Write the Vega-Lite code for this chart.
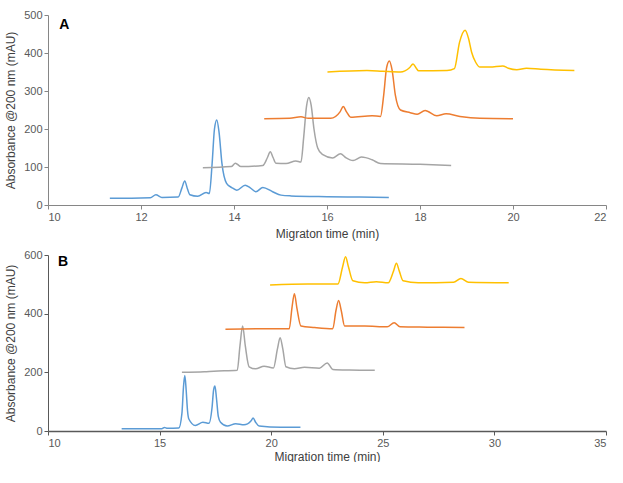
{
  "$schema": "https://vega.github.io/schema/vega-lite/v6.json",
  "padding": {"left": 4, "top": 9, "right": 0, "bottom": 0},
  "spacing": 10,
  "background": "white",
  "config": {
    "view": {"stroke": null},
    "font": "Liberation Sans",
    "axis": {
      "grid": false,
      "labelFont": "Liberation Sans",
      "labelFontSize": 11,
      "labelColor": "#595959",
      "labelOverlap": false,
      "titleFont": "Liberation Sans",
      "titleFontSize": 12,
      "titleFontWeight": "normal",
      "titleColor": "#404040",
      "domainColor": "#868686",
      "tickColor": "#868686",
      "tickSize": 4
    }
  },
  "datasets": {
    "A": [
      {"s": "1", "t": 11.33, "v": 18}, {"s": "1", "t": 11.8, "v": 18}, {"s": "1", "t": 12.2, "v": 19}, {"s": "1", "t": 12.32, "v": 27}, {"s": "1", "t": 12.45, "v": 20}, {"s": "1", "t": 12.8, "v": 21}, {"s": "1", "t": 12.88, "v": 45}, {"s": "1", "t": 12.94, "v": 63}, {"s": "1", "t": 13.0, "v": 42}, {"s": "1", "t": 13.05, "v": 27}, {"s": "1", "t": 13.22, "v": 23}, {"s": "1", "t": 13.4, "v": 33}, {"s": "1", "t": 13.47, "v": 30}, {"s": "1", "t": 13.53, "v": 110}, {"s": "1", "t": 13.58, "v": 200}, {"s": "1", "t": 13.63, "v": 224}, {"s": "1", "t": 13.68, "v": 190}, {"s": "1", "t": 13.74, "v": 110}, {"s": "1", "t": 13.84, "v": 57}, {"s": "1", "t": 13.95, "v": 46}, {"s": "1", "t": 14.06, "v": 39}, {"s": "1", "t": 14.24, "v": 52}, {"s": "1", "t": 14.35, "v": 45}, {"s": "1", "t": 14.47, "v": 35}, {"s": "1", "t": 14.62, "v": 46}, {"s": "1", "t": 14.83, "v": 35}, {"s": "1", "t": 15.01, "v": 26}, {"s": "1", "t": 15.22, "v": 24}, {"s": "1", "t": 16.0, "v": 22}, {"s": "1", "t": 16.7, "v": 21}, {"s": "1", "t": 17.33, "v": 20},
      {"s": "2", "t": 13.33, "v": 98}, {"s": "2", "t": 13.94, "v": 101}, {"s": "2", "t": 14.03, "v": 110}, {"s": "2", "t": 14.15, "v": 101}, {"s": "2", "t": 14.62, "v": 104}, {"s": "2", "t": 14.72, "v": 125}, {"s": "2", "t": 14.78, "v": 140}, {"s": "2", "t": 14.84, "v": 125}, {"s": "2", "t": 14.9, "v": 110}, {"s": "2", "t": 15.12, "v": 109}, {"s": "2", "t": 15.33, "v": 116}, {"s": "2", "t": 15.44, "v": 113}, {"s": "2", "t": 15.5, "v": 180}, {"s": "2", "t": 15.56, "v": 260}, {"s": "2", "t": 15.61, "v": 283}, {"s": "2", "t": 15.66, "v": 262}, {"s": "2", "t": 15.72, "v": 200}, {"s": "2", "t": 15.8, "v": 150}, {"s": "2", "t": 15.9, "v": 133}, {"s": "2", "t": 16.12, "v": 124}, {"s": "2", "t": 16.29, "v": 135}, {"s": "2", "t": 16.4, "v": 125}, {"s": "2", "t": 16.56, "v": 117}, {"s": "2", "t": 16.74, "v": 126}, {"s": "2", "t": 16.97, "v": 119}, {"s": "2", "t": 17.15, "v": 109}, {"s": "2", "t": 18.0, "v": 107}, {"s": "2", "t": 18.67, "v": 104},
      {"s": "3", "t": 14.65, "v": 227}, {"s": "3", "t": 15.2, "v": 228}, {"s": "3", "t": 15.44, "v": 232}, {"s": "3", "t": 15.6, "v": 228}, {"s": "3", "t": 16.08, "v": 228}, {"s": "3", "t": 16.28, "v": 245}, {"s": "3", "t": 16.35, "v": 259}, {"s": "3", "t": 16.42, "v": 245}, {"s": "3", "t": 16.51, "v": 231}, {"s": "3", "t": 16.97, "v": 235}, {"s": "3", "t": 17.15, "v": 233}, {"s": "3", "t": 17.22, "v": 290}, {"s": "3", "t": 17.28, "v": 360}, {"s": "3", "t": 17.34, "v": 379}, {"s": "3", "t": 17.4, "v": 355}, {"s": "3", "t": 17.47, "v": 289}, {"s": "3", "t": 17.58, "v": 250}, {"s": "3", "t": 17.79, "v": 243}, {"s": "3", "t": 17.94, "v": 239}, {"s": "3", "t": 18.11, "v": 249}, {"s": "3", "t": 18.36, "v": 235}, {"s": "3", "t": 18.56, "v": 240}, {"s": "3", "t": 18.86, "v": 233}, {"s": "3", "t": 19.29, "v": 228}, {"s": "3", "t": 20.0, "v": 227},
      {"s": "4", "t": 16.01, "v": 350}, {"s": "4", "t": 16.86, "v": 354}, {"s": "4", "t": 17.2, "v": 352}, {"s": "4", "t": 17.58, "v": 350}, {"s": "4", "t": 17.78, "v": 362}, {"s": "4", "t": 17.85, "v": 371}, {"s": "4", "t": 17.92, "v": 360}, {"s": "4", "t": 17.97, "v": 353}, {"s": "4", "t": 18.58, "v": 354}, {"s": "4", "t": 18.74, "v": 359}, {"s": "4", "t": 18.85, "v": 428}, {"s": "4", "t": 18.97, "v": 460}, {"s": "4", "t": 19.04, "v": 440}, {"s": "4", "t": 19.11, "v": 402}, {"s": "4", "t": 19.2, "v": 375}, {"s": "4", "t": 19.29, "v": 363}, {"s": "4", "t": 19.5, "v": 363}, {"s": "4", "t": 19.78, "v": 366}, {"s": "4", "t": 19.9, "v": 360}, {"s": "4", "t": 20.08, "v": 356}, {"s": "4", "t": 20.29, "v": 360}, {"s": "4", "t": 20.6, "v": 357}, {"s": "4", "t": 21.32, "v": 354}
    ],
    "B": [
      {"s": "1", "t": 13.3, "v": 8}, {"s": "1", "t": 15.1, "v": 8}, {"s": "1", "t": 15.21, "v": 12}, {"s": "1", "t": 15.35, "v": 9}, {"s": "1", "t": 15.86, "v": 10}, {"s": "1", "t": 16.0, "v": 60}, {"s": "1", "t": 16.07, "v": 150}, {"s": "1", "t": 16.13, "v": 189}, {"s": "1", "t": 16.19, "v": 140}, {"s": "1", "t": 16.25, "v": 70}, {"s": "1", "t": 16.31, "v": 41}, {"s": "1", "t": 16.6, "v": 19}, {"s": "1", "t": 16.94, "v": 30}, {"s": "1", "t": 17.21, "v": 26}, {"s": "1", "t": 17.35, "v": 80}, {"s": "1", "t": 17.42, "v": 140}, {"s": "1", "t": 17.48, "v": 153}, {"s": "1", "t": 17.55, "v": 110}, {"s": "1", "t": 17.63, "v": 50}, {"s": "1", "t": 17.73, "v": 30}, {"s": "1", "t": 18.03, "v": 17}, {"s": "1", "t": 18.41, "v": 25}, {"s": "1", "t": 18.78, "v": 21}, {"s": "1", "t": 19.1, "v": 35}, {"s": "1", "t": 19.19, "v": 44}, {"s": "1", "t": 19.3, "v": 30}, {"s": "1", "t": 19.46, "v": 17}, {"s": "1", "t": 20.43, "v": 13}, {"s": "1", "t": 21.31, "v": 13},
      {"s": "2", "t": 16.0, "v": 200}, {"s": "2", "t": 17.0, "v": 202}, {"s": "2", "t": 17.43, "v": 204}, {"s": "2", "t": 18.48, "v": 207}, {"s": "2", "t": 18.6, "v": 290}, {"s": "2", "t": 18.72, "v": 358}, {"s": "2", "t": 18.84, "v": 290}, {"s": "2", "t": 19.01, "v": 219}, {"s": "2", "t": 19.3, "v": 212}, {"s": "2", "t": 19.68, "v": 221}, {"s": "2", "t": 20.1, "v": 215}, {"s": "2", "t": 20.28, "v": 280}, {"s": "2", "t": 20.4, "v": 318}, {"s": "2", "t": 20.52, "v": 280}, {"s": "2", "t": 20.66, "v": 219}, {"s": "2", "t": 21.04, "v": 212}, {"s": "2", "t": 21.49, "v": 217}, {"s": "2", "t": 22.16, "v": 214}, {"s": "2", "t": 22.51, "v": 232}, {"s": "2", "t": 22.76, "v": 210}, {"s": "2", "t": 23.5, "v": 208}, {"s": "2", "t": 24.64, "v": 207},
      {"s": "3", "t": 17.95, "v": 347}, {"s": "3", "t": 19.53, "v": 349}, {"s": "3", "t": 20.81, "v": 349}, {"s": "3", "t": 20.93, "v": 420}, {"s": "3", "t": 21.04, "v": 468}, {"s": "3", "t": 21.15, "v": 420}, {"s": "3", "t": 21.33, "v": 358}, {"s": "3", "t": 21.94, "v": 353}, {"s": "3", "t": 22.76, "v": 349}, {"s": "3", "t": 22.9, "v": 410}, {"s": "3", "t": 23.02, "v": 445}, {"s": "3", "t": 23.14, "v": 410}, {"s": "3", "t": 23.29, "v": 358}, {"s": "3", "t": 24.19, "v": 358}, {"s": "3", "t": 25.2, "v": 355}, {"s": "3", "t": 25.51, "v": 369}, {"s": "3", "t": 25.77, "v": 355}, {"s": "3", "t": 27.0, "v": 354}, {"s": "3", "t": 28.66, "v": 353},
      {"s": "4", "t": 19.95, "v": 498}, {"s": "4", "t": 21.64, "v": 501}, {"s": "4", "t": 22.99, "v": 501}, {"s": "4", "t": 23.2, "v": 560}, {"s": "4", "t": 23.33, "v": 594}, {"s": "4", "t": 23.46, "v": 560}, {"s": "4", "t": 23.66, "v": 512}, {"s": "4", "t": 24.19, "v": 505}, {"s": "4", "t": 24.71, "v": 509}, {"s": "4", "t": 25.24, "v": 505}, {"s": "4", "t": 25.48, "v": 545}, {"s": "4", "t": 25.61, "v": 572}, {"s": "4", "t": 25.74, "v": 545}, {"s": "4", "t": 25.91, "v": 512}, {"s": "4", "t": 26.59, "v": 505}, {"s": "4", "t": 28.17, "v": 507}, {"s": "4", "t": 28.5, "v": 520}, {"s": "4", "t": 28.84, "v": 507}, {"s": "4", "t": 30.64, "v": 505}
    ]
  },
  "vconcat": [
    {
      "width": 558,
      "height": 190,
      "encoding": {
        "x": {"type": "quantitative", "scale": {"domain": [10, 22], "nice": false},
              "axis": {"title": "Migraton time (min)", "values": [10, 12, 14, 16, 18, 20, 22], "titlePadding": 6, "labelOverlap": false}},
        "y": {"type": "quantitative", "scale": {"domain": [0, 500], "nice": false},
              "axis": {"title": "Absorbance @200 nm (mAU)", "values": [0, 100, 200, 300, 400, 500], "titlePadding": 6, "labelOverlap": false}}
      },
      "layer": [
        {
          "data": {"name": "A"},
          "mark": {"type": "line", "strokeWidth": 1.5, "interpolate": "monotone"},
          "encoding": {
            "x": {"field": "t"},
            "y": {"field": "v"},
            "color": {"field": "s", "type": "nominal", "scale": {"domain": ["1", "2", "3", "4"], "range": ["#5B9BD5", "#A5A5A5", "#ED7D31", "#FFC000"]}, "legend": null}
          }
        },
        {
          "data": {"values": [{}]},
          "mark": {"type": "text", "text": "A", "fontWeight": "bold", "fontSize": 14, "font": "Liberation Sans", "align": "left", "baseline": "middle", "color": "black"},
          "encoding": {"x": {"datum": 10.24}, "y": {"datum": 474}}
        }
      ]
    },
    {
      "width": 558,
      "height": 176,
      "encoding": {
        "x": {"type": "quantitative", "scale": {"domain": [10, 35], "nice": false},
              "axis": {"title": "Migration time (min)", "values": [10, 15, 20, 25, 30, 35], "titlePadding": 3, "labelOverlap": false, "domainColor": "#595959", "domainWidth": 1.5, "tickColor": "#595959"}},
        "y": {"type": "quantitative", "scale": {"domain": [0, 600], "nice": false},
              "axis": {"title": "Absorbance @200 nm (mAU)", "values": [0, 200, 400, 600], "titlePadding": 6, "labelOverlap": false, "domainColor": "#595959", "tickColor": "#595959"}}
      },
      "layer": [
        {
          "data": {"name": "B"},
          "mark": {"type": "line", "strokeWidth": 1.5, "interpolate": "monotone"},
          "encoding": {
            "x": {"field": "t"},
            "y": {"field": "v"},
            "color": {"field": "s", "type": "nominal", "scale": {"domain": ["1", "2", "3", "4"], "range": ["#5B9BD5", "#A5A5A5", "#ED7D31", "#FFC000"]}, "legend": null}
          }
        },
        {
          "data": {"values": [{}]},
          "mark": {"type": "text", "text": "B", "fontWeight": "bold", "fontSize": 14, "font": "Liberation Sans", "align": "left", "baseline": "middle", "color": "black"},
          "encoding": {"x": {"datum": 10.45}, "y": {"datum": 576}}
        }
      ]
    }
  ]
}
